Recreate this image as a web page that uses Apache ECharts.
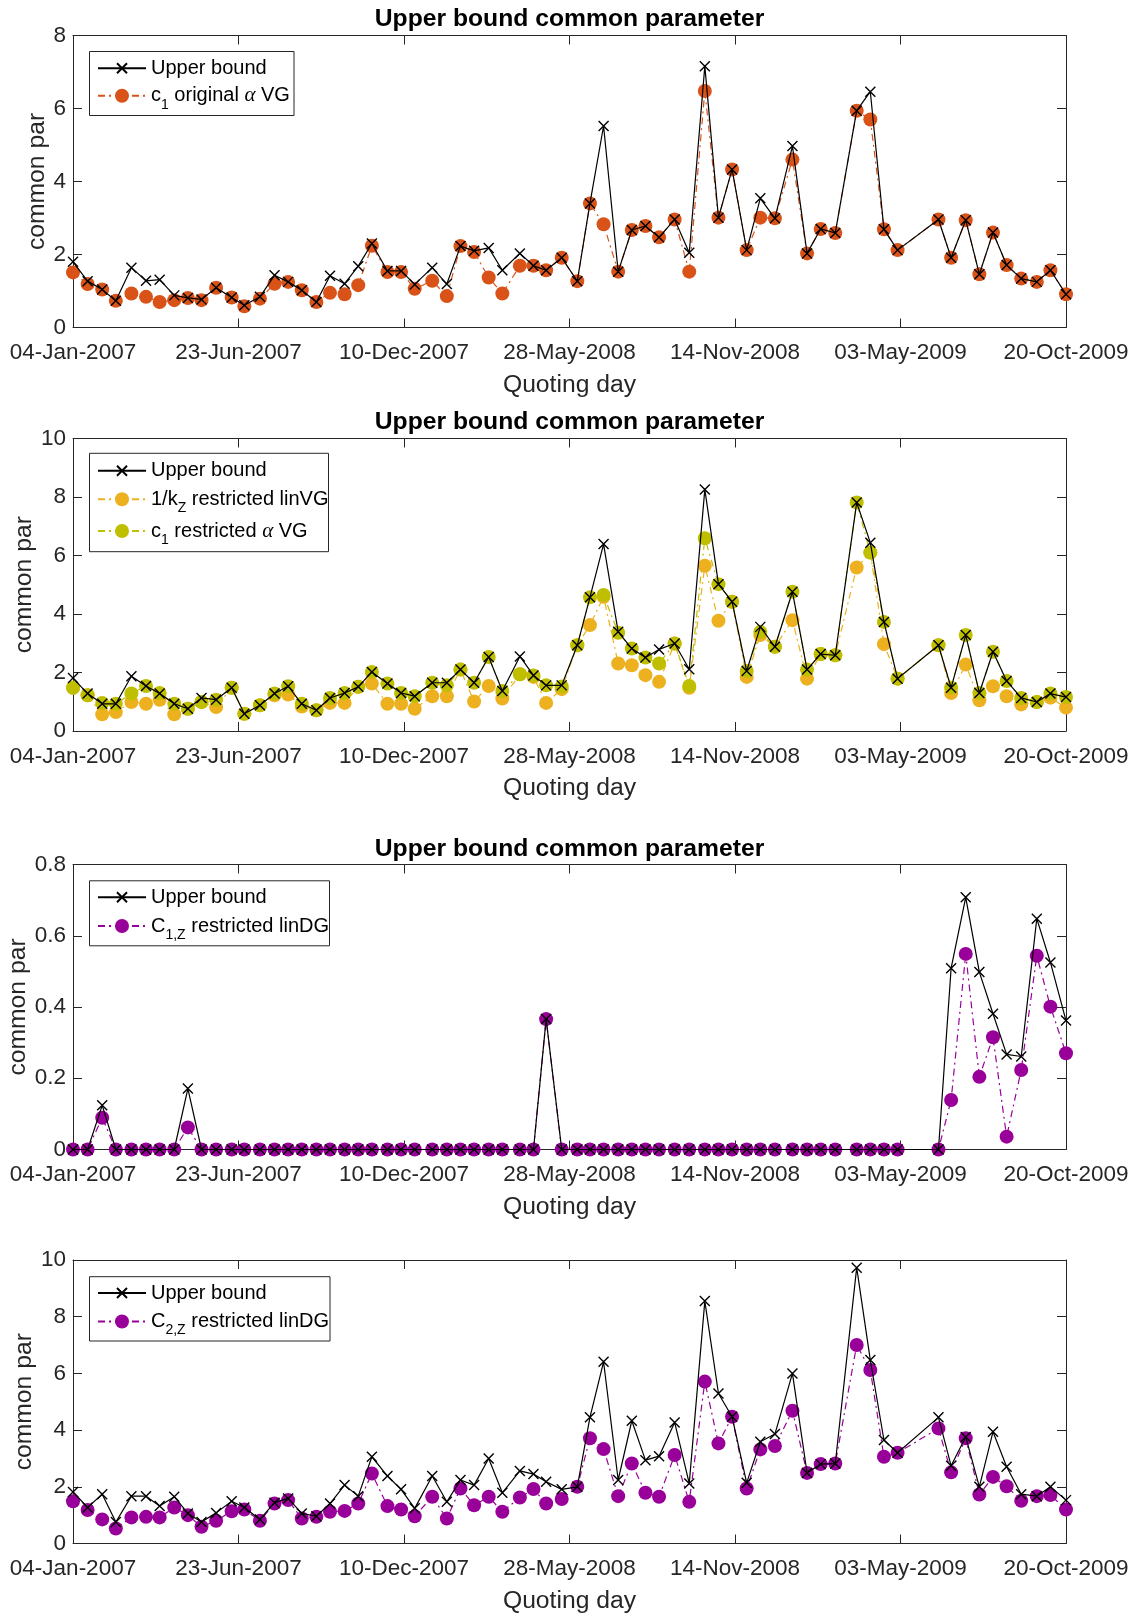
<!DOCTYPE html>
<html><head><meta charset="utf-8">
<script src="https://cdn.jsdelivr.net/npm/echarts@6/dist/echarts.min.js"></script>
<style>html,body{margin:0;padding:0;background:#fff}#c{width:1135px;height:1617px}</style>
</head><body><div id="c"></div>
<script>
// Quoting days, as days after 04-Jan-2007
const quotingDay = [0,15,30,44,60,75,89,104,118,132,147,163,176,192,207,221,235,250,264,279,
  293,307,323,337,351,369,384,398,412,427,441,459,473,486,502,518,531,545,560,574,
  588,602,618,633,649,663,677,692,706,721,739,754,768,783,805,819,833,847,889,902,
  917,931,945,959,974,990,1004,1020];
const tickLabels = ['04-Jan-2007','23-Jun-2007','10-Dec-2007','28-May-2008','14-Nov-2008','03-May-2009','20-Oct-2009'];
const titleText = 'Upper bound common parameter';
const yName = 'common par';

// Panel 1
const upper1 = [1.80,1.27,1.04,0.73,1.64,1.28,1.31,0.88,0.81,0.77, 1.09,0.82,0.61,0.84,1.43,1.25,1.02,0.70,1.42,1.20,
  1.68,2.30,1.55,1.55,1.18,1.64,1.19,2.23,2.10,2.18, 1.57,2.03,1.69,1.57,1.91,1.27,3.40,5.52,1.53,2.67,
  2.78,2.47,2.96,2.05,7.16,3.01,4.33,2.12,3.54,2.99, 4.97,2.03,2.70,2.59,5.94,6.46,2.69,2.12,2.96,1.91,
  2.94,1.46,2.60,1.71,1.34,1.25,1.57,0.91];
const c1OriginalVG = [1.51,1.19,1.04,0.73,0.93,0.84,0.70,0.75,0.81,0.75, 1.09,0.82,0.58,0.79,1.20,1.25,1.02,0.70,0.95,0.91,
  1.16,2.24,1.52,1.52,1.06,1.28,0.86,2.23,2.07,1.37, 0.93,1.69,1.69,1.57,1.91,1.27,3.40,2.83,1.53,2.67,
  2.78,2.47,2.96,1.53,6.48,3.01,4.33,2.12,3.01,2.99, 4.60,2.03,2.70,2.59,5.94,5.70,2.69,2.12,2.96,1.91,
  2.94,1.46,2.60,1.71,1.34,1.25,1.57,0.91];

// Panel 2
const upper2 = [1.81,1.28,0.93,0.93,1.87,1.54,1.28,0.93,0.76,1.13, 1.07,1.48,0.59,0.88,1.28,1.53,0.93,0.71,1.13,1.30,
  1.51,2.02,1.62,1.30,1.19,1.65,1.65,2.10,1.65,2.53, 1.37,2.55,1.90,1.56,1.56,2.93,4.57,6.39,3.39,2.82,
  2.51,2.79,2.99,2.11,8.26,5.02,4.42,2.05,3.56,2.88, 4.76,2.10,2.63,2.59,7.81,6.44,3.73,1.79,2.93,1.48,
  3.28,1.30,2.71,1.71,1.13,0.99,1.28,1.16];
const invKzLinVG = [1.48,1.22,0.57,0.65,0.99,0.93,1.07,0.57,0.76,0.99, 0.82,1.48,0.59,0.88,1.22,1.25,0.84,0.71,0.96,0.96,
  1.51,1.62,0.93,0.93,0.76,1.19,1.19,2.10,1.01,1.54, 1.11,1.94,1.85,0.96,1.43,2.93,3.62,4.59,2.31,2.25,
  1.91,1.68,2.99,1.48,5.65,3.77,4.42,1.85,3.28,2.88, 3.79,1.79,2.63,2.59,5.59,6.10,2.97,1.79,2.93,1.30,
  2.27,1.05,1.53,1.19,0.91,0.99,1.14,0.80];
const c1RestrictedVG = [1.48,1.22,0.96,0.93,1.28,1.54,1.30,0.93,0.76,0.99, 1.07,1.48,0.59,0.88,1.28,1.53,0.93,0.71,1.13,1.30,
  1.51,2.02,1.62,1.30,1.19,1.65,1.56,2.10,1.65,2.53, 1.37,1.94,1.90,1.56,1.52,2.93,4.57,4.65,3.36,2.82,
  2.51,2.31,2.99,1.54,6.59,5.02,4.42,2.05,3.39,2.88, 4.76,2.10,2.63,2.59,7.81,6.10,3.73,1.79,2.93,1.48,
  3.28,1.30,2.71,1.71,1.13,0.99,1.28,1.16];

// Panel 3
const upper3 = [0,0,0.124,0,0,0,0,0,0.171,0, 0,0,0,0,0,0,0,0,0,0,
  0,0,0,0,0,0,0,0,0,0, 0,0,0,0.366,0,0,0,0,0,0,
  0,0,0,0,0,0,0,0,0,0, 0,0,0,0,0,0,0,0,0,0.509,
  0.708,0.498,0.381,0.267,0.261,0.648,0.525,0.362];
const c1zLinDG = [0,0,0.089,0,0,0,0,0,0.062,0, 0,0,0,0,0,0,0,0,0,0,
  0,0,0,0,0,0,0,0,0,0, 0,0,0,0.366,0,0,0,0,0,0,
  0,0,0,0,0,0,0,0,0,0, 0,0,0,0,0,0,0,0,0,0.139,
  0.549,0.204,0.315,0.036,0.223,0.544,0.401,0.270];

// Panel 4
const upper4 = [1.82,1.27,1.74,0.76,1.67,1.67,1.32,1.65,1.06,0.76, 1.08,1.49,1.27,0.85,1.44,1.59,1.06,0.96,1.41,2.06,
  1.67,3.06,2.38,1.91,1.24,2.38,1.47,2.24,2.06,3.00, 1.79,2.56,2.45,2.18,1.91,2.00,4.45,6.41,2.24,4.33,
  2.94,3.08,4.27,2.12,8.55,5.29,4.47,2.14,3.59,3.86, 6.00,2.49,2.80,2.82,9.73,6.47,3.65,3.20,4.45,2.74,
  3.76,2.00,3.94,2.71,1.74,1.67,2.00,1.53];
const c2zLinDG = [1.49,1.18,0.85,0.53,0.92,0.94,0.92,1.27,1.00,0.59, 0.80,1.14,1.20,0.80,1.41,1.53,0.88,0.94,1.12,1.15,
  1.41,2.47,1.32,1.20,0.96,1.65,0.88,1.94,1.35,1.65, 1.12,1.62,1.92,1.41,1.57,2.00,3.71,3.33,1.67,2.82,
  1.79,1.65,3.12,1.47,5.71,3.53,4.47,1.94,3.32,3.44, 4.68,2.49,2.80,2.82,7.00,6.12,3.06,3.20,4.06,2.51,
  3.71,1.73,2.35,2.02,1.51,1.67,1.71,1.20];

const yMaxes = [8, 10, 0.8, 10];
const yIntervals = [2, 2, 0.2, 2];

const FONT = 'Liberation Sans, Arial, Helvetica, sans-serif';
const AX = '#262626';
const grids = [
  {left: 73, top: 35.5, width: 993, height: 292},
  {left: 73, top: 438.5, width: 993, height: 292.5},
  {left: 73, top: 864.5, width: 993, height: 285},
  {left: 73, top: 1260, width: 993, height: 283.5}
];
// horizontal anchor of the rotated y-axis titles
const yNameX = [37.5, 24.2, 18.3, 24.2];

const xAxes = [], yAxes = [];
grids.forEach((g, i) => {
  g.outerBoundsMode = 'none';
  g.containLabel = false;
  const common = {
    type: 'value', gridIndex: i, min: 0, max: 1020, interval: 170,
    axisLine: {show: true, onZero: false, lineStyle: {color: AX, width: 1}},
    axisTick: {show: true, inside: true, length: 9, lineStyle: {color: AX, width: 1}},
    splitLine: {show: false}, minorTick: {show: false}
  };
  xAxes.push(Object.assign({}, common, {
    position: 'bottom',
    axisLabel: {show: true, fontFamily: FONT, fontSize: 22.5, color: AX, margin: 14,
      showMinLabel: true, showMaxLabel: true, hideOverlap: false,
      formatter: v => tickLabels[Math.round(v / 170)]},
    name: 'Quoting day', nameLocation: 'middle', nameGap: 45,
    nameTextStyle: {fontFamily: FONT, fontSize: 24.7, color: AX}
  }));
  xAxes.push(Object.assign({}, common, {position: 'top', axisLabel: {show: false}}));
  const ycommon = {
    type: 'value', gridIndex: i, min: 0, max: yMaxes[i], interval: yIntervals[i],
    axisLine: {show: true, onZero: false, lineStyle: {color: AX, width: 1}},
    axisTick: {show: true, inside: true, length: 9, lineStyle: {color: AX, width: 1}},
    splitLine: {show: false}
  };
  yAxes.push(Object.assign({}, ycommon, {
    position: 'left',
    axisLabel: {show: true, fontFamily: FONT, fontSize: 22.5, color: AX, margin: 7,
      showMinLabel: true, showMaxLabel: true,
      formatter: v => (yIntervals[i] < 1 ? (v === 0 ? '0' : v.toFixed(1)) : String(v))}
  }));
  yAxes.push(Object.assign({}, ycommon, {position: 'right', axisLabel: {show: false}}));
});

const XSYM = 'path://M0,0M14,14M2,2L12,12M12,2L2,12';
const DASHDOT = [7, 4, 2, 4];
function pts(vals) { return quotingDay.map((d, k) => [d, vals[k]]); }
function upperSeries(name, vals, i) {
  return {name, type: 'line', xAxisIndex: 2 * i, yAxisIndex: 2 * i, data: pts(vals),
    symbol: XSYM, symbolSize: 14, showSymbol: true, showAllSymbol: true, clip: false,
    lineStyle: {color: '#000', width: 1.2, type: 'solid'},
    itemStyle: {color: '#000', borderColor: '#000', borderWidth: 1.4},
    emphasis: {disabled: true}, silent: true, animation: false, z: 3};
}
function dotSeries(name, vals, i, color) {
  return {name, type: 'line', xAxisIndex: 2 * i, yAxisIndex: 2 * i, data: pts(vals),
    symbol: 'circle', symbolSize: 14, showSymbol: true, showAllSymbol: true, clip: false,
    lineStyle: {color, width: 1.2, type: DASHDOT},
    itemStyle: {color, borderWidth: 0},
    emphasis: {disabled: true}, silent: true, animation: false, z: 2};
}

const series = [
  dotSeries('s1', c1OriginalVG, 0, '#D95319'),
  upperSeries('u1', upper1, 0),
  dotSeries('s2a', invKzLinVG, 1, '#EDB120'),
  dotSeries('s2b', c1RestrictedVG, 1, '#BFBF00'),
  upperSeries('u2', upper2, 1),
  dotSeries('s3', c1zLinDG, 2, '#990099'),
  upperSeries('u3', upper3, 2),
  dotSeries('s4', c2zLinDG, 3, '#990099'),
  upperSeries('u4', upper4, 3)
];

const labelMap = {
  u1: 'Upper bound', u2: 'Upper bound', u3: 'Upper bound', u4: 'Upper bound',
  s1: 'c{sub|1}{t| original }{it|α}{t| VG}',
  s2a: '1/k{sub|Z}{t| restricted linVG}',
  s2b: 'c{sub|1}{t| restricted }{it|α}{t| VG}',
  s3: 'C{sub|1,Z}{t| restricted linDG}',
  s4: 'C{sub|2,Z}{t| restricted linDG}'
};
const rich = {
  t: {fontFamily: FONT, fontSize: 20, color: '#000', lineHeight: 32},
  sub: {fontFamily: FONT, fontSize: 14, color: '#000', verticalAlign: 'bottom', lineHeight: 14},
  it: {fontFamily: 'Liberation Serif, DejaVu Serif, serif', fontStyle: 'italic', fontSize: 21, color: '#000', lineHeight: 32}
};
function legendRow(name, cy) {
  return {show: true, left: 97, top: cy - 16, orient: 'horizontal', padding: 0,
    itemWidth: 48, itemHeight: 17.5, selectedMode: false, data: [name],
    formatter: n => labelMap[n],
    textStyle: {fontFamily: FONT, fontSize: 20, color: '#000', lineHeight: 32, rich}};
}
const legends = [
  legendRow('u1', 68.3), legendRow('s1', 95.7),
  legendRow('u2', 470.7), legendRow('s2a', 499.3), legendRow('s2b', 531),
  legendRow('u3', 897.3), legendRow('s3', 926),
  legendRow('u4', 1293), legendRow('s4', 1321.5)
];
const boxes = [
  {x: 89.5, y: 51.5, width: 204.5, height: 64},
  {x: 89.5, y: 453.3, width: 239, height: 98.4},
  {x: 89.5, y: 880.8, width: 240, height: 65},
  {x: 89.5, y: 1276.7, width: 240.5, height: 64.3}
];

const titles = [7, 410, 836.6].map(t => ({
  text: titleText, left: 569.5, top: t, textAlign: 'center', padding: 0,
  textStyle: {fontFamily: FONT, fontSize: 24.7, fontWeight: 'bold', color: '#000'}
}));

const graphicEls = boxes.map(b => ({type: 'rect', z: 3, silent: true,
    shape: {x: b.x, y: b.y, width: b.width, height: b.height},
    style: {fill: '#fff', stroke: AX, lineWidth: 1}}));
grids.forEach((g, i) => {
  graphicEls.push({type: 'text', silent: true, z: 3,
    x: yNameX[i], y: g.top + g.height / 2, rotation: Math.PI / 2,
    style: {text: yName, fontFamily: FONT, fontSize: 24.7, fill: AX, align: 'center', verticalAlign: 'middle'}});
});

const chart = echarts.init(document.getElementById('c'), null, {renderer: 'canvas'});
chart.setOption({
  animation: false,
  backgroundColor: '#fff',
  title: titles,
  grid: grids,
  xAxis: xAxes,
  yAxis: yAxes,
  legend: legends,
  graphic: {elements: graphicEls},
  series
});
</script></body></html>
